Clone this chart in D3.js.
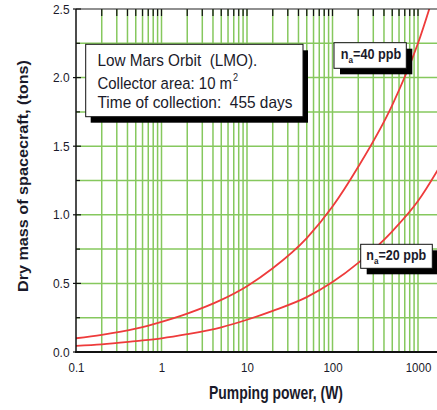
<!DOCTYPE html>
<html><head><meta charset="utf-8">
<script src="https://cdn.jsdelivr.net/npm/d3@7"></script>
<style>html,body{margin:0;padding:0;background:#fff;} svg{display:block;} text{white-space:pre;}</style>
</head><body><svg id="c" width="437" height="410"></svg>
<script>
// ---- data ----
const power  = [0.1, 0.2, 0.5, 1, 2, 5, 10, 20, 50, 100, 200, 500, 1000, 2000];
const mass40 = [0.10, 0.125, 0.17, 0.22, 0.28, 0.38, 0.48, 0.61, 0.83, 1.06, 1.35, 1.80, 2.25, 2.85];
const mass20 = [0.045, 0.056, 0.08, 0.10, 0.13, 0.18, 0.235, 0.30, 0.40, 0.51, 0.65, 0.88, 1.10, 1.40];
const xTickValues = [0.1, 1, 10, 100, 1000];
const xTickLabels = ["0.1", "1", "10", "100", "1000"];
const yTickValues = [0, 0.5, 1.0, 1.5, 2.0, 2.5];
const yTickLabels = ["0.0", "0.5", "1.0", "1.5", "2.0", "2.5"];
const yGridValues = [0.25, 0.5, 0.75, 1.0, 1.25, 1.5, 1.75, 2.0, 2.25];
const xTitle = "Pumping power, (W)";
const yTitle = "Dry mass of spacecraft, (tons)";
const legendLines = ["Low Mars Orbit  (LMO).", "Collector area: 10 m", "Time of collection:  455 days"];
const legendSup = "2";
const seriesNames = ["=40 ppb", "=20 ppb"];

(function () {
// ---- layout ----
const FONT = "'Liberation Sans', Arial, Helvetica, sans-serif";
const pL = 76, pT = 9, pB = 352, xDecadeEnd = 418, pR = 437;
const GREEN = "#86c85e", RED = "#ee3b3b", TXT = "#1a1a2a";

const svg = d3.select("#c");
const x = d3.scaleLog().domain([0.1, 1000]).range([pL, xDecadeEnd]);
const y = d3.scaleLinear().domain([0, 2.5]).range([pB, pT]);

// minor x positions (1..9 per decade)
const xGrid = [];
[0.1, 1, 10, 100].forEach(d => { for (let k = 1; k <= 9; k++) xGrid.push(d * k); });
xGrid.push(1000);

svg.append("defs").append("clipPath").attr("id", "plot")
  .append("rect").attr("x", pL).attr("y", pT).attr("width", pR - pL + 10).attr("height", pB - pT);

// grid
const grid = svg.append("g");
grid.selectAll("line.v").data(xGrid.filter(d => d > 0.1)).join("line")
  .attr("x1", d => x(d)).attr("x2", d => x(d)).attr("y1", pT).attr("y2", pB)
  .attr("stroke", GREEN).attr("stroke-width", 1.5);
grid.selectAll("line.h").data(yGridValues).join("line")
  .attr("x1", pL).attr("x2", pR + 5).attr("y1", d => y(d)).attr("y2", d => y(d))
  .attr("stroke", GREEN).attr("stroke-width", 1.5);

// top ticks
svg.append("g").selectAll("line").data(xGrid.filter(d => d > 0.1)).join("line")
  .attr("x1", d => x(d)).attr("x2", d => x(d)).attr("y1", pT).attr("y2", pT + 7)
  .attr("stroke", "#111").attr("stroke-width", 1.2);

// left ticks
svg.append("g").selectAll("line").data(yTickValues).join("line")
  .attr("x1", pL - 3).attr("x2", pL + 5).attr("y1", d => y(d)).attr("y2", d => y(d))
  .attr("stroke", "#111").attr("stroke-width", 1.2);
svg.append("g").selectAll("line").data(yGridValues.filter((d, i) => i % 2 === 0)).join("line")
  .attr("x1", pL).attr("x2", pL + 4).attr("y1", d => y(d)).attr("y2", d => y(d))
  .attr("stroke", "#111").attr("stroke-width", 1.2);

// curves
const line = d3.line().x(d => x(d[0])).y(d => y(d[1])).curve(d3.curveMonotoneX);
const cg = svg.append("g").attr("clip-path", "url(#plot)");
[mass40, mass20].forEach(s => {
  cg.append("path").datum(power.map((p, i) => [p, s[i]])).attr("d", line)
    .attr("fill", "none").attr("stroke", RED).attr("stroke-width", 1.8);
});

// axis frame
svg.append("line").attr("x1", pL).attr("x2", pR + 5).attr("y1", pT).attr("y2", pT)
  .attr("stroke", "#222").attr("stroke-width", 1.2);
svg.append("line").attr("x1", pL).attr("x2", pL).attr("y1", pT).attr("y2", pB)
  .attr("stroke", "#111").attr("stroke-width", 1.5);
svg.append("line").attr("x1", pL - 1).attr("x2", pR + 5).attr("y1", pB).attr("y2", pB)
  .attr("stroke", "#111").attr("stroke-width", 2);

// tick labels via d3 axes
const ax = svg.append("g").attr("transform", `translate(0,${pB})`)
  .call(d3.axisBottom(x).tickValues(xTickValues).tickFormat((d, i) => xTickLabels[i]).tickSize(0).tickPadding(11));
ax.select(".domain").remove();
ax.selectAll("text").attr("font-family", FONT).attr("font-size", 12.5).attr("fill", TXT)
  .attr("transform", "scale(0.92,1)");

const ay = svg.append("g").attr("transform", `translate(${pL},0)`)
  .call(d3.axisLeft(y).tickValues(yTickValues).tickFormat((d, i) => yTickLabels[i]).tickSize(0).tickPadding(7));
ay.select(".domain").remove();
ay.selectAll("text").attr("font-family", FONT).attr("font-size", 13).attr("fill", TXT)
  .attr("transform", "scale(0.92,1)");

function fit(t, x0, y0, w) {
  const bw = t.node().getBBox().width;
  t.attr("transform", `translate(${x0},${y0}) scale(${w / bw},1)`);
}

// axis titles
const xt = svg.append("text").attr("font-family", FONT).attr("font-size", 17.5).attr("font-weight", "bold")
  .attr("fill", TXT).attr("text-anchor", "middle").text(xTitle);
fit(xt, 276, 399, 134);
svg.append("text").attr("font-family", FONT).attr("font-size", 15.5).attr("font-weight", "bold")
  .attr("fill", TXT).attr("text-anchor", "middle").text(yTitle)
  .attr("textLength", 232).attr("lengthAdjust", "spacingAndGlyphs")
  .attr("transform", "translate(28,176) rotate(-90)");

function box(bx, by, bw, bh, sx, sy) {
  svg.append("rect").attr("x", bx + sx).attr("y", by + sy).attr("width", bw).attr("height", bh).attr("fill", "#000");
  svg.append("rect").attr("x", bx).attr("y", by).attr("width", bw).attr("height", bh)
    .attr("fill", "#fff").attr("stroke", "#111").attr("stroke-width", 1);
}
box(85.7, 44.3, 217.3, 72.4, 5, 6);
const lgBase = [65.5, 88.5, 108];
const lgW = [160, 141, 195];
legendLines.forEach((s, i) => {
  const t = svg.append("text").attr("font-family", FONT).attr("font-size", 16.5).attr("fill", TXT)
    .attr("xml:space", "preserve");
  t.append("tspan").text(s);
  if (i === 1) t.append("tspan").attr("font-size", 10).attr("dx", 1).attr("dy", -8).text(legendSup);
  fit(t, 97.5, lgBase[i], lgW[i]);
});

const lab = [
  {bx: 334, by: 42.7, bw: 72.3, bh: 25.6, tx: 340.7, ty: 59.3, w: 60.6},
  {bx: 360.7, by: 244.3, bw: 71.6, bh: 24, tx: 366.3, ty: 259.8, w: 60}
];
lab.forEach((L, i) => {
  box(L.bx, L.by, L.bw, L.bh, 6, 6);
  const t = svg.append("text").attr("font-family", FONT).attr("font-size", 14).attr("font-weight", "bold").attr("fill", TXT);
  t.append("tspan").text("n");
  t.append("tspan").attr("font-size", 9).attr("dy", 4).text("a");
  t.append("tspan").attr("dy", -4).text(seriesNames[i]);
  fit(t, L.tx, L.ty, L.w);
});
})();
</script></body></html>
